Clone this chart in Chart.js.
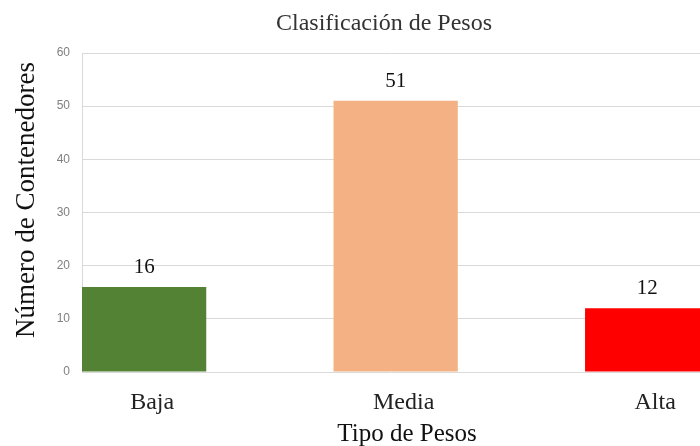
<!DOCTYPE html>
<html>
<head>
<meta charset="utf-8">
<script src="https://cdn.jsdelivr.net/npm/chart.js@4.4.1/dist/chart.umd.min.js"></script>
<style>
  html, body { margin: 0; padding: 0; background: #fff; }
  #wrap { width: 700px; height: 446px; overflow: hidden; }
</style>
</head>
<body>
<div id="wrap"><canvas id="chart" width="700" height="446"></canvas></div>
<script>
const categories = ["Baja", "Media", "Alta"];
const counts = [16, 51, 12];
const barColors = ["#548235", "#F4B183", "#FF0000"];
const yTicks = [0, 10, 20, 30, 40, 50, 60];

const chartTitle = "Clasificación de Pesos";
const xTitle = "Tipo de Pesos";
const yTitle = "Número de Contenedores";

const serif = '"Liberation Serif", "DejaVu Serif", serif';

// value labels above each bar
const barValues = {
  id: "barValues",
  afterDatasetsDraw(chart) {
    const { ctx } = chart;
    const meta = chart.getDatasetMeta(0);
    ctx.save();
    ctx.font = "21px " + serif;
    ctx.fillStyle = "#111";
    ctx.textAlign = "center";
    ctx.textBaseline = "alphabetic";
    meta.data.forEach((bar, i) => {
      ctx.fillText(String(counts[i]), bar.x, bar.y - 14);
    });
    ctx.restore();
  }
};

// chart title and axis titles
const titles = {
  id: "titles",
  afterDraw(chart) {
    const { ctx } = chart;
    ctx.save();
    ctx.textAlign = "center";
    ctx.textBaseline = "middle";
    ctx.fillStyle = "#333";
    ctx.font = "24px " + serif;
    ctx.fillText(chartTitle, 384, 24);
    ctx.fillStyle = "#111";
    ctx.font = "25px " + serif;
    ctx.fillText(xTitle, 407, 434);
    ctx.translate(27, 200);
    ctx.rotate(-Math.PI / 2);
    ctx.font = "27px " + serif;
    ctx.fillText(yTitle, 0, 0);
    ctx.restore();
  }
};

new Chart(document.getElementById("chart"), {
  type: "bar",
  data: {
    datasets: [{
      data: counts.map((v, i) => ({ x: i, y: v })),
      backgroundColor: barColors,
      borderWidth: 0,
      barPercentage: 0.494,
      categoryPercentage: 1
    }]
  },
  options: {
    responsive: false,
    animation: false,
    layout: { padding: { top: 53, right: 0, bottom: 0, left: 0 } },
    plugins: {
      legend: { display: false },
      title: { display: false },
      tooltip: { enabled: false }
    },
    scales: {
      x: {
        type: "linear",
        offset: false,
        min: -0.247,
        max: 2.21,
        afterBuildTicks: (scale) => {
          scale.ticks = categories.map((c, i) => ({ value: i }));
        },
        afterFit: (scale) => { scale.height = 74; },
        grid: { display: false, offset: false },
        border: { display: false },
        ticks: {
          callback: (v) => categories[v],
          font: { family: serif, size: 24 },
          color: "#222",
          padding: 8,
          labelOffset: 8,
          maxRotation: 0,
          autoSkip: false
        }
      },
      y: {
        min: 0,
        max: 60,
        afterBuildTicks: (scale) => {
          scale.ticks = yTicks.map((v) => ({ value: v }));
        },
        afterFit: (scale) => { scale.width = 82; },
        grid: { color: "#d9d9d9", drawTicks: false },
        border: { color: "#d9d9d9" },
        ticks: {
          font: { family: '"Liberation Sans", Arial, sans-serif', size: 12 },
          color: "#808080",
          padding: 12
        }
      }
    }
  },
  plugins: [barValues, titles]
});
</script>
</body>
</html>
